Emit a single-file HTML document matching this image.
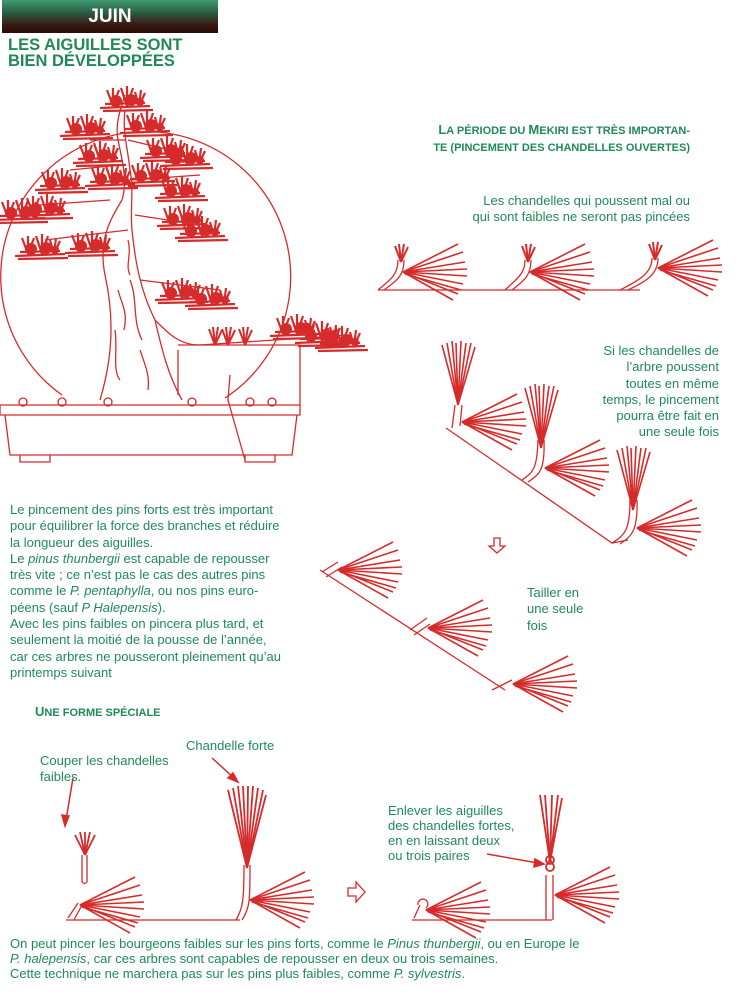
<!DOCTYPE html>
<html><head><meta charset="utf-8"><style>
html,body{margin:0;padding:0;background:#fff;}
body{width:746px;height:995px;position:relative;overflow:hidden;font-family:"Liberation Sans",sans-serif;color:#1f8a57;}
.t{position:absolute;font-size:13px;line-height:16.3px;white-space:nowrap;}
.hdr{position:absolute;left:2px;top:0;width:216px;height:33px;background:linear-gradient(#3f9a72 0%,#2a5a40 40%,#3a1a12 75%,#2a0e08 100%);color:#fff;font-weight:bold;font-size:19px;text-align:center;line-height:33px;}
.ttl{position:absolute;left:8px;top:37px;font-weight:bold;font-size:16.5px;line-height:16px;color:#1f8a57;}
.sc{font-weight:bold;font-size:11px;}
.sc b{font-size:13px;}
svg{position:absolute;left:0;top:0;}
</style></head><body>
<svg width="746" height="995" viewBox="0 0 746 995">
<defs>
<g id="tuft" stroke="#d62b2b" stroke-width="1.6" fill="none">
<line x1="0" y1="0" x2="55" y2="-28"/><line x1="0" y1="0" x2="60" y2="-20"/><line x1="0" y1="0" x2="62" y2="-10"/>
<line x1="0" y1="0" x2="64" y2="-3"/><line x1="0" y1="0" x2="64" y2="4"/><line x1="0" y1="0" x2="60" y2="12"/>
<line x1="0" y1="0" x2="55" y2="22"/><line x1="0" y1="0" x2="50" y2="28"/><line x1="2" y1="2" x2="58" y2="18"/>
</g>
<g id="candle" stroke="#d62b2b" stroke-width="1.6" fill="none">
<line x1="0" y1="0" x2="-16" y2="-60"/><line x1="0" y1="0" x2="-11" y2="-62"/><line x1="0" y1="0" x2="-6" y2="-64"/>
<line x1="0" y1="0" x2="-2" y2="-62"/><line x1="0" y1="0" x2="3" y2="-64"/><line x1="0" y1="0" x2="8" y2="-62"/>
<line x1="0" y1="0" x2="13" y2="-62"/><line x1="0" y1="0" x2="17" y2="-58"/>
</g>
<g id="small" stroke="#d62b2b" stroke-width="2" fill="none">
<line x1="0" y1="0" x2="-6" y2="-16"/><line x1="0" y1="0" x2="-2" y2="-18"/><line x1="0" y1="0" x2="3" y2="-18"/><line x1="0" y1="0" x2="7" y2="-15"/>
</g>
<g id="pad" stroke="#d62b2b" stroke-width="2.2" fill="none">
<line x1="-25" y1="8" x2="25" y2="6"/><line x1="-22" y1="11" x2="28" y2="10"/><line x1="-20" y1="4" x2="20" y2="3"/>
<line x1="-12" y1="6" x2="-18" y2="-10"/><line x1="-12" y1="6" x2="-12" y2="-12"/><line x1="-12" y1="6" x2="-6" y2="-10"/>
<line x1="2" y1="6" x2="-4" y2="-12"/><line x1="2" y1="6" x2="2" y2="-14"/><line x1="2" y1="6" x2="8" y2="-12"/>
<line x1="14" y1="6" x2="10" y2="-8"/><line x1="14" y1="6" x2="16" y2="-10"/><line x1="14" y1="6" x2="20" y2="-7"/>
<circle cx="-9" cy="1" r="6" fill="#d62b2b" stroke="none"/><circle cx="6" cy="0" r="6" fill="#d62b2b" stroke="none"/><circle cx="15" cy="2" r="4" fill="#d62b2b" stroke="none"/>
</g>
</defs>

<!-- bonsai -->
<g stroke="#d62b2b" fill="none" stroke-width="1.3">
<path d="M62 395 A145 145 0 1 1 225 398"/>
<path d="M0 405 L300 405 L300 415 L0 415 Z"/>
<path d="M5 415 L10 455 L292 455 L297 415"/>
<path d="M20 455 L20 462 L50 462 L50 455 M245 455 L245 462 L275 462 L275 455"/>
<circle cx="23" cy="402" r="4"/><circle cx="62" cy="402" r="4"/><circle cx="108" cy="402" r="4"/><circle cx="192" cy="402" r="4"/><circle cx="250" cy="402" r="4"/><circle cx="272" cy="402" r="4"/>
<path d="M100 400 C112 360 115 320 105 275 C98 240 110 220 122 200 C128 180 122 160 118 140 C115 125 120 110 125 95"/>
<path d="M182 400 C168 375 162 350 155 320 C140 290 135 260 132 230 C130 210 134 190 130 170 C128 150 122 130 125 110"/>
<path d="M155 320 C170 335 180 345 200 345 L350 335"/>
<path d="M178 350 L178 395 M178 345 L300 345 L300 405 M230 375 L228 400 L245 460"/>
<path d="M115 330 C118 350 112 370 120 380 M130 280 C138 300 132 320 142 340 M118 290 C122 305 128 312 124 330 M140 350 C145 365 150 375 148 390 M128 240 C132 255 125 265 130 275"/>
<path d="M110 200 L40 205 M120 165 L70 170 M130 180 L200 175 M128 230 L45 240 M140 280 L220 290 M135 215 L200 225 M125 140 L90 140 M128 140 L170 150"/>
</g>
<use href="#pad" x="125" y="100"/><use href="#pad" x="85" y="128"/><use href="#pad" x="145" y="125"/>
<use href="#pad" x="98" y="155"/><use href="#pad" x="165" y="150"/><use href="#pad" x="185" y="158"/>
<use href="#pad" x="60" y="182"/><use href="#pad" x="110" y="178"/><use href="#pad" x="150" y="175"/><use href="#pad" x="180" y="190"/>
<use href="#pad" x="20" y="212"/><use href="#pad" x="45" y="208"/><use href="#pad" x="182" y="218"/><use href="#pad" x="200" y="230"/>
<use href="#pad" x="40" y="248"/><use href="#pad" x="90" y="245"/><use href="#pad" x="180" y="292"/><use href="#pad" x="210" y="298"/>
<use href="#pad" x="295" y="328"/><use href="#pad" x="320" y="335"/><use href="#pad" x="340" y="340"/>
<use href="#small" x="215" y="345"/><use href="#small" x="228" y="345"/><use href="#small" x="245" y="345"/>

<!-- top row -->
<g stroke="#d62b2b" fill="none" stroke-width="1.3">
<path d="M378 290 L640 290"/>
<path d="M378 290 C390 280 398 275 398 260 M384 290 C398 280 404 275 404 260"/>
<path d="M505 290 C515 280 525 275 525 260 M512 290 C525 280 531 275 531 260"/>
<path d="M620 290 C635 282 652 275 652 258 M628 290 C645 282 658 275 658 258"/>
</g>
<use href="#small" x="401" y="262"/><use href="#tuft" x="403" y="272"/>
<use href="#small" x="528" y="262"/><use href="#tuft" x="530" y="272"/>
<use href="#small" x="655" y="260"/><use href="#tuft" x="658" y="268"/>

<!-- diagonal 1 -->
<g stroke="#d62b2b" fill="none" stroke-width="1.3">
<path d="M446 428 L612 543 L628 540"/>
<path d="M452 428 L455 405 M460 426 L462 405"/>
<path d="M522 480 C533 472 537 470 538 440 M528 482 C540 474 545 470 544 440"/>
<path d="M612 543 C625 535 630 530 630 500 M620 544 C632 536 638 530 637 500"/>
</g>
<use href="#candle" x="458" y="405"/><use href="#tuft" x="462" y="422"/>
<use href="#candle" x="541" y="448"/><use href="#tuft" x="545" y="468"/>
<use href="#candle" x="633" y="510"/><use href="#tuft" x="637" y="528"/>

<!-- diagonal 2 -->
<g stroke="#d62b2b" fill="none" stroke-width="1.3">
<path d="M320 570 L505 690"/>
<path d="M322 572 L338 562 M326 577 L342 567"/>
<path d="M410 630 L427 618 M414 635 L430 624"/>
<path d="M492 690 L512 680"/>
</g>
<use href="#tuft" x="338" y="570"/><use href="#tuft" x="428" y="628"/><use href="#tuft" x="513" y="684"/>
<path d="M494 538 L500 538 L500 546 L505 546 L497 553 L489 546 L494 546 Z" stroke="#d62b2b" fill="#fff" stroke-width="1.3"/>

<!-- bottom -->
<g stroke="#d62b2b" fill="none" stroke-width="1.3">
<path d="M66 920 L240 920 M68 918 L78 903 M74 920 L82 905"/>
<path d="M236 920 C243 908 244 900 244 865 M242 920 C250 908 250 900 250 865"/>
<path d="M82 882 L82 855 M87 882 L87 855 M82 882 Q84.5 885 87 882"/>
<path d="M412 920 L552 920 M414 918 L420 905 M418 905 A5 5 0 1 1 426 908"/>
<path d="M546 920 L546 875 M553 920 L553 875 M547 865 Q550 855 553 865"/>
<path d="M348 888 L356 888 L356 882 L365 892 L356 902 L356 896 L348 896 Z" fill="#fff"/>
</g>
<use href="#tuft" x="80" y="905"/>
<use href="#tuft" x="250" y="900"/>
<use href="#tuft" x="426" y="910"/>
<use href="#tuft" x="555" y="895"/>
<g stroke="#d62b2b" stroke-width="1.8" fill="none">
<line x1="85" y1="855" x2="75" y2="835"/><line x1="85" y1="855" x2="80" y2="832"/><line x1="85" y1="855" x2="85" y2="832"/><line x1="85" y1="855" x2="90" y2="832"/><line x1="85" y1="855" x2="95" y2="835"/>
<line x1="247" y1="868" x2="228" y2="790"/><line x1="247" y1="868" x2="233" y2="788"/><line x1="247" y1="868" x2="238" y2="786"/><line x1="247" y1="868" x2="243" y2="786"/><line x1="247" y1="868" x2="248" y2="786"/><line x1="247" y1="868" x2="253" y2="786"/><line x1="247" y1="868" x2="258" y2="788"/><line x1="247" y1="868" x2="263" y2="790"/><line x1="247" y1="868" x2="266" y2="795"/>
<line x1="550" y1="862" x2="540" y2="795"/><line x1="550" y1="862" x2="545" y2="795"/><line x1="550" y1="862" x2="552" y2="795"/><line x1="550" y1="862" x2="558" y2="795"/><line x1="550" y1="862" x2="562" y2="798"/>
<circle cx="550" cy="860" r="4"/><circle cx="550" cy="867" r="4"/>
</g>
<g stroke="#d62b2b" stroke-width="1.5" fill="#d62b2b">
<line x1="212" y1="758" x2="234" y2="778"/><path d="M238 782 L228 778 L233 773 Z"/>
<line x1="73" y1="778" x2="66" y2="820"/><path d="M65 826 L62 815 L69 816 Z"/>
<line x1="487" y1="854" x2="538" y2="863"/><path d="M544 864 L534 867 L535 859 Z"/>
</g>
</svg>

<div class="hdr">JUIN</div>
<div class="ttl">LES AIGUILLES SONT<br>BIEN DÉVELOPPÉES</div>
<div class="t sc" style="right:56px;top:121px;text-align:right;line-height:17px;"><b>L</b>A PÉRIODE DU <b>M</b>EKIRI EST TRÈS IMPORTAN-<br>TE (PINCEMENT DES CHANDELLES OUVERTES)</div>
<div class="t" style="right:56px;top:193px;text-align:right;">Les chandelles qui poussent mal ou<br>qui sont faibles ne seront pas pincées</div>
<div class="t" style="right:27px;top:343px;text-align:right;">Si les chandelles de<br>l’arbre poussent<br>toutes en même<br>temps, le pincement<br>pourra être fait en<br>une seule fois</div>
<div class="t" style="left:10px;top:502px;">Le pincement des pins forts est très important<br>pour équilibrer la force des branches et réduire<br>la longueur des aiguilles.<br>Le <i>pinus thunbergii</i> est capable de repousser<br>très vite ; ce n’est pas le cas des autres pins<br>comme le <i>P. pentaphylla</i>, ou nos pins euro-<br>péens (sauf <i>P Halepensis</i>).<br>Avec les pins faibles on pincera plus tard, et<br>seulement la moitié de la pousse de l’année,<br>car ces arbres ne pousseront pleinement qu’au<br>printemps suivant</div>
<div class="t" style="left:527px;top:585px;">Tailler en<br>une seule<br>fois</div>
<div class="t sc" style="left:35px;top:704px;"><b>U</b>NE FORME SPÉCIALE</div>
<div class="t" style="left:186px;top:738px;">Chandelle forte</div>
<div class="t" style="left:40px;top:753px;">Couper les chandelles<br>faibles.</div>
<div class="t" style="left:388px;top:803px;line-height:15px;">Enlever les aiguilles<br>des chandelles fortes,<br>en en laissant deux<br>ou trois paires</div>
<div class="t" style="left:10px;top:936px;line-height:15px;">On peut pincer les bourgeons faibles sur les pins forts, comme le <i>Pinus thunbergii</i>, ou en Europe le<br><i>P. halepensis</i>, car ces arbres sont capables de repousser en deux ou trois semaines.<br>Cette technique ne marchera pas sur les pins plus faibles, comme <i>P. sylvestris</i>.</div>
</body></html>
